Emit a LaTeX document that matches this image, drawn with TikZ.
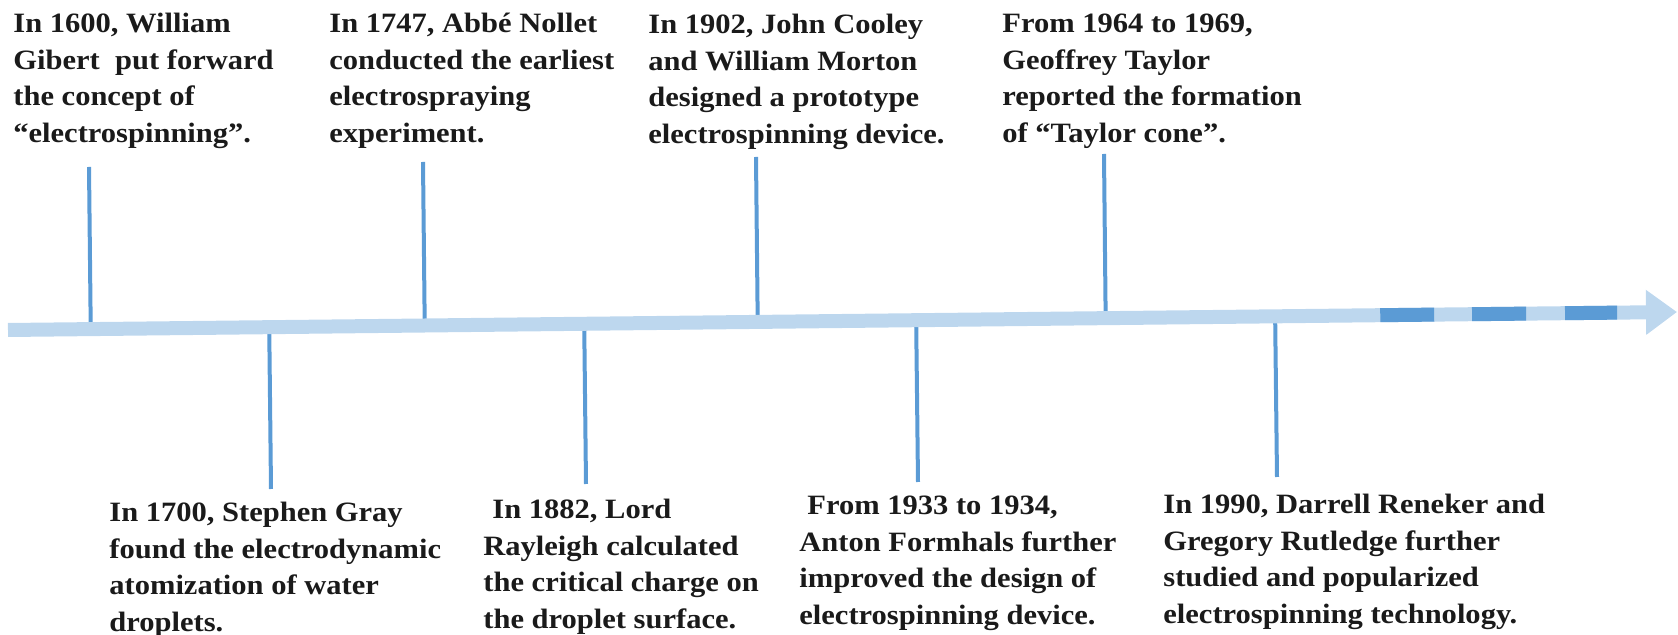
\documentclass[tikz,border=0pt]{standalone}
\usepackage{fontspec}
\setmainfont{Liberation Serif}[FakeStretch=1.09]
\usetikzlibrary{arrows.meta,calc}
\definecolor{axisblue}{HTML}{BDD7EE}
\definecolor{tickblue}{HTML}{5B9BD5}
\definecolor{txtcol}{HTML}{1A1A1A}
\begin{document}
\begin{tikzpicture}[x=0.5pt,y=-0.5pt,
  evt/.style={anchor=north west, inner sep=0pt, align=left,
    font=\fontsize{14}{18.25}\selectfont\bfseries, text=txtcol},
  tickline/.style={draw=tickblue, line width=2pt},
  axisline/.style={draw=axisblue, line width=7pt,
    -{Triangle[length=15.5pt,width=21.5pt]}},
  axisdash/.style={draw=tickblue, line width=7pt}]
\useasboundingbox (0,0) rectangle (1678,635);
% axis end points
\coordinate (A) at (8,330);
\coordinate (T) at (1677,312);
% upper ticks
\coordinate (u1) at (89,167);
\coordinate (u2) at (423,162);
\coordinate (u3) at (756,157);
\coordinate (u4) at (1104,154);
% lower ticks
\coordinate (l1) at (271,489);
\coordinate (l2) at (586,484);
\coordinate (l3) at (918,482);
\coordinate (l4) at (1277,477);
\foreach \c in {u1,u2,u3,u4,l1,l2,l3,l4}{
  \draw[tickline] (\c) -- ($(A)!(\c)!(T)$);
}
% axis arrow
\draw[axisline] (A) -- (T);
% dark dashes
\draw[axisdash] ($(A)!0.8222!(T)$) -- ($(A)!0.8545!(T)$);
\draw[axisdash] ($(A)!0.8772!(T)$) -- ($(A)!0.9096!(T)$);
\draw[axisdash] ($(A)!0.9329!(T)$) -- ($(A)!0.9641!(T)$);
% texts above
\node[evt] (t1) at (13,13) {In 1600, William\\Gibert~ put forward\\the concept of\\``electrospinning''.};
\node[evt] (t2) at (329,13) {In 1747, Abb\'e Nollet\\conducted the earliest\\electrospraying\\experiment.};
\node[evt] (t3) at (648,14) {In 1902, John Cooley\\and William Morton\\designed a prototype\\electrospinning device.};
\node[evt] (t4) at (1002,14) {From 1964 to 1969,\\Geoffrey Taylor\\reported the formation\\of ``Taylor cone''.};
% texts below
\node[evt] (b1) at (109,502) {In 1700, Stephen Gray\\found the electrodynamic\\atomization of water\\droplets.};
\node[evt] (b2) at (483,499) {\hspace*{4.5pt}In 1882, Lord\\Rayleigh calculated\\the critical charge on\\the droplet surface.};
\node[evt] (b3) at (799,496) {\hspace*{4pt}From 1933 to 1934,\\Anton Formhals further\\improved the design of\\electrospinning device.};
\node[evt] (b4) at (1163,494) {In 1990, Darrell Reneker and\\Gregory Rutledge further\\studied and popularized\\electrospinning technology.};
\end{tikzpicture}
\end{document}
